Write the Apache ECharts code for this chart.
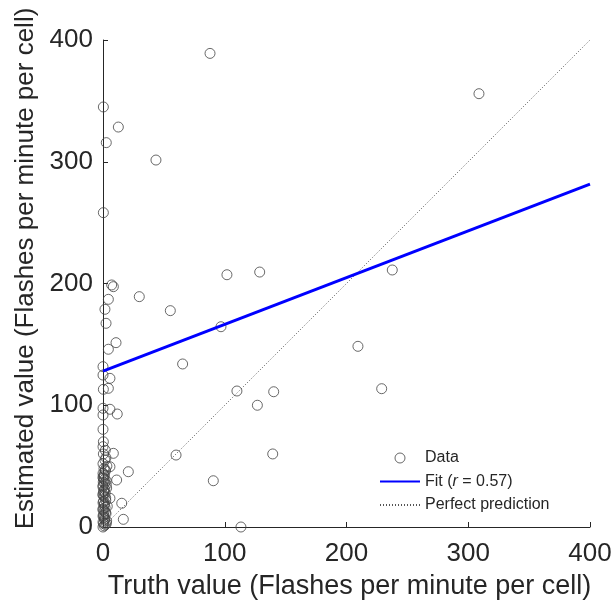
<!DOCTYPE html>
<html>
<head>
<meta charset="utf-8">
<script src="https://cdn.jsdelivr.net/npm/echarts@6/dist/echarts.min.js"></script>
<style>html,body{margin:0;padding:0;background:#fff;}#c{width:616px;height:610px;}</style>
</head>
<body>
<div id="c"></div>
<script>
// Scatter data: truth (x) vs estimated (y)
var truthValues = [
  87.9, 308.8, 43.5, 101.8, 128.7, 55.3, 96.9, 237.6, 65.4, 209.4, 110, 140.2, 126.8, 228.9,
  60, 139.4, 90.6, 113.3,
  0.3, 12.6, 2.7, 0.3,
  7.1, 8.5, 29.8, 4.4, 1.6, 2.5, 10.7, 4.4, 0, 0, 5.7, 0.3, 4.4, 0, 5.7, 11.7, 0, 0, 0.3,
  8.5, 5.7, 20.8, 11.2, 5.7, 15.4, 16.7,
  0, 1, 2, 0.5, 3, 1.5, 0, 2.5, 1, 0, 3.5, 1.2, 0.4, 2.2, 0, 1.8, 0.6, 3, 0, 1.4, 2.6, 0.2,
  1.1, 0, 2, 0.8, 3.2, 0, 1.6, 2.4, 0.3, 1.9, 0, 2.8, 0.7,
  0, 1.3, 0.5, 2.1, 0, 1.7, 0.9, 0, 2.3, 1, 0, 0.6, 1.5, 0, 2.7, 0.2, 1.1, 0, 0.8, 1.9
];
var estimatedValues = [
  389, 355.9, 301.4, 207.2, 209.4, 177.7, 164.5, 211.1, 133.9, 148.4, 111.7, 111.1, 100, 113.6,
  59.1, 60, 38, 0,
  345, 328.5, 315.7, 258.2,
  198.8, 197.4, 189.2, 187, 178.8, 167.3, 151.4, 146, 131.7, 124.8, 122.1, 113.1, 113.9, 97.5, 96.7, 92.8, 92, 80.2, 70,
  60.5, 49.5, 45.4, 38.6, 23.6, 19.5, 6.3,
  0, 1, 2, 3, 5, 7, 9, 11, 13, 15, 17, 19, 21, 24, 26, 28, 30, 32, 34, 36, 38, 40,
  42, 44, 46, 48, 50, 52, 55, 57, 60, 63, 66, 3, 8,
  4, 6, 10, 12, 14, 16, 18, 20, 22, 25, 27, 29, 31, 33, 35, 37, 39, 41, 43, 47
];
// Fit line endpoints (r = 0.57)
var fitX = [0, 400];
var fitY = [128, 281.7];
// Perfect prediction line
var perfectX = [0, 400];
var perfectY = [0, 400];
var axisTicks = [0, 100, 200, 300, 400];

var scatterData = truthValues.map(function (x, i) { return [x, estimatedValues[i]]; });
var fitData = fitX.map(function (x, i) { return [x, fitY[i]]; });
var perfectData = perfectX.map(function (x, i) { return [x, perfectY[i]]; });

var txt = '#262626';
var font = 'Liberation Sans, Arial, sans-serif';
var chart = echarts.init(document.getElementById('c'), null, {renderer: 'canvas'});
chart.setOption({
  animation: false,
  backgroundColor: '#fff',
  grid: {left: 103, right: 26, top: 40, bottom: 83, containLabel: false},
  xAxis: {
    type: 'value', min: axisTicks[0], max: axisTicks[axisTicks.length - 1], interval: 100,
    name: 'Truth value (Flashes per minute per cell)', nameLocation: 'middle', nameGap: 46,
    nameTextStyle: {fontSize: 27, color: txt, fontFamily: font, padding: [0, 0, 0, 6]},
    axisLine: {show: true, lineStyle: {color: '#262626', width: 1}},
    axisTick: {show: true, inside: true, length: 5, lineStyle: {color: '#262626'}},
    axisLabel: {fontSize: 26, color: txt, fontFamily: font, margin: 14},
    splitLine: {show: false}
  },
  yAxis: {
    type: 'value', min: axisTicks[0], max: axisTicks[axisTicks.length - 1], interval: 100,
    name: 'Estimated value (Flashes per minute per cell)', nameLocation: 'middle', nameGap: 63,
    nameTextStyle: {fontSize: 26, color: txt, fontFamily: font, padding: [0, 0, 0, 30]},
    axisLine: {show: true, lineStyle: {color: '#262626', width: 1}},
    axisTick: {show: true, inside: true, length: 5, lineStyle: {color: '#262626'}},
    axisLabel: {fontSize: 26, color: txt, fontFamily: font, margin: 10},
    splitLine: {show: false}
  },
  legend: {
    orient: 'vertical', left: 374, top: 445, itemWidth: 40, itemHeight: 10, itemGap: 7.5,
    textStyle: {fontSize: 16, color: txt, fontFamily: font,
      rich: {i: {fontStyle: 'italic', fontSize: 16, color: txt, fontFamily: font}}},
    formatter: function (n) { return n === 'Fit' ? 'Fit ({i|r} = 0.57)' : n; },
    data: [
      {name: 'Data', icon: 'circle', itemStyle: {color: 'rgba(0,0,0,0)', borderColor: '#444', borderWidth: 1}},
      {name: 'Fit', itemStyle: {opacity: 0}},
      {name: 'Perfect prediction', itemStyle: {opacity: 0}}
    ]
  },
  series: [
    {
      name: 'Perfect prediction', type: 'line', data: perfectData, showSymbol: false, symbol: 'none',
      itemStyle: {color: '#555'},
      lineStyle: {color: '#555', width: 1, type: [1, 2]}, z: 1, silent: true
    },
    {
      name: 'Data', type: 'scatter', data: scatterData, symbol: 'circle', symbolSize: 10,
      itemStyle: {color: 'rgba(0,0,0,0)', borderColor: '#444', borderWidth: 1}, z: 2
    },
    {
      name: 'Fit', type: 'line', data: fitData, showSymbol: false, symbol: 'none',
      itemStyle: {color: '#0000ff'},
      lineStyle: {color: '#0000ff', width: 3}, z: 3
    }
  ]
});
</script>
</body>
</html>
